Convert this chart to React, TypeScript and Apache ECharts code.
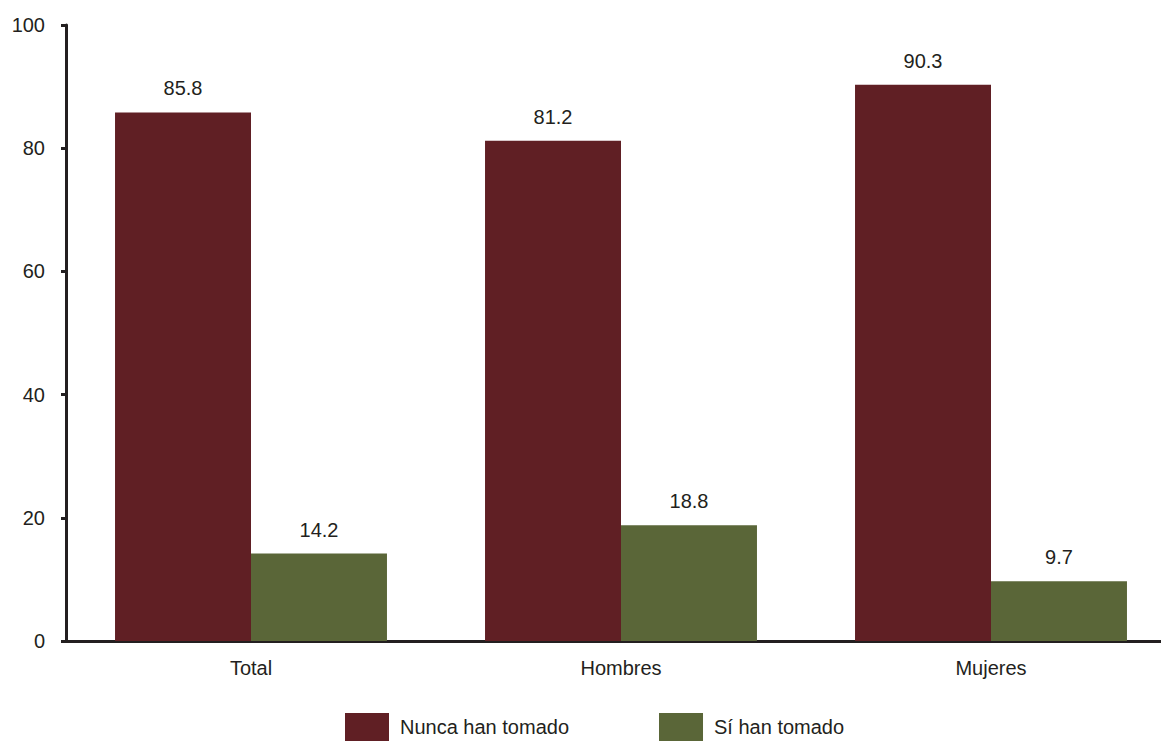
import React, { useEffect, useRef } from "react";
import * as echarts from "echarts";

const categories = ["Total", "Hombres", "Mujeres"];
const nuncaValues = [85.8, 81.2, 90.3];
const siValues = [14.2, 18.8, 9.7];
const seriesNames = ["Nunca han tomado", "Sí han tomado"];
const yTicks = { min: 0, max: 100, interval: 20 };

const FONT = "'Liberation Sans', Arial, sans-serif";
const TEXT = "#231f20";
const FS = 20;

export default function App() {
  const ref = useRef<HTMLDivElement>(null);
  useEffect(() => {
    if (!ref.current) return;
    const chart = echarts.init(ref.current, undefined, { renderer: "svg" });
    const label = {
      show: true,
      position: "top",
      distance: 14,
      fontSize: FS,
      fontFamily: FONT,
      color: TEXT,
      formatter: (p: any) => Number(p.value).toFixed(1),
    };
    chart.setOption({
      animation: false,
      grid: {
        left: 66,
        width: 1110,
        top: 25,
        height: 616,
        containLabel: false,
        outerBoundsMode: "none",
      },
      legend: {
        top: 713,
        left: 345,
        itemWidth: 44,
        itemHeight: 28,
        itemGap: 90,
        icon: "rect",
        padding: 0,
        textStyle: { fontSize: FS, fontFamily: FONT, color: TEXT, padding: [0, 0, 0, 6] },
        data: seriesNames,
      },
      xAxis: {
        type: "category",
        data: categories,
        axisLine: { show: true, lineStyle: { color: TEXT, width: 3 } },
        axisTick: { show: false },
        axisLabel: { fontSize: FS, fontFamily: FONT, color: TEXT, margin: 17 },
      },
      yAxis: {
        type: "value",
        min: yTicks.min,
        max: yTicks.max,
        interval: yTicks.interval,
        splitLine: { show: false },
        axisLine: { show: true, lineStyle: { color: TEXT, width: 3 } },
        axisTick: { show: true, length: 5, lineStyle: { color: TEXT, width: 3 } },
        axisLabel: { fontSize: FS, fontFamily: FONT, color: TEXT, margin: 21 },
      },
      series: [
        {
          name: seriesNames[0],
          type: "bar",
          data: nuncaValues,
          itemStyle: { color: "#601f24" },
          barGap: "0%",
          barCategoryGap: "26.5%",
          label,
        },
        {
          name: seriesNames[1],
          type: "bar",
          data: siValues,
          itemStyle: { color: "#5a6638" },
          barGap: "0%",
          barCategoryGap: "26.5%",
          label,
        },
      ],
    });
    return () => chart.dispose();
  }, []);
  return <div ref={ref} style={{ width: 1161, height: 742, position: "absolute", left: 0, top: 0 }} />;
}
